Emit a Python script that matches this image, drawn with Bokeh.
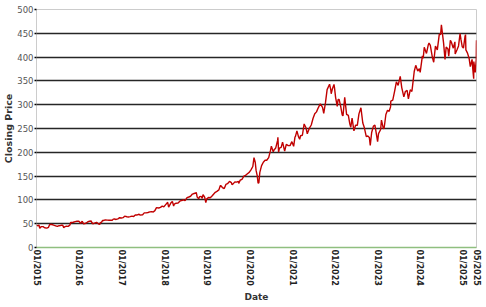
import math
from datetime import datetime
from bokeh.plotting import figure
from bokeh.models import FixedTicker, DatetimeTickFormatter, Range1d, ColumnDataSource
from bokeh.embed import file_html
from bokeh.resources import INLINE

dates = [
 "2015-01-02","2015-01-15","2015-01-23","2015-01-30","2015-02-13","2015-02-27","2015-03-13","2015-03-31",
 "2015-04-15","2015-04-24","2015-04-30","2015-05-15","2015-05-29","2015-06-15","2015-06-30","2015-07-15",
 "2015-07-24","2015-07-31","2015-08-14","2015-08-24","2015-08-31","2015-09-15","2015-09-30","2015-10-15",
 "2015-10-23","2015-10-30","2015-11-13","2015-11-30","2015-12-15","2015-12-31",
 "2016-01-15","2016-01-29","2016-02-10","2016-02-29","2016-03-15","2016-03-31","2016-04-15","2016-04-22",
 "2016-04-29","2016-05-13","2016-05-31","2016-06-15","2016-06-27","2016-06-30","2016-07-15","2016-07-21",
 "2016-07-29","2016-08-15","2016-08-31","2016-09-15","2016-09-30","2016-10-14","2016-10-21","2016-10-31",
 "2016-11-15","2016-11-30","2016-12-15","2016-12-30",
 "2017-01-13","2017-01-27","2017-02-15","2017-02-28","2017-03-15","2017-03-31","2017-04-14","2017-04-28",
 "2017-05-15","2017-05-31","2017-06-09","2017-06-30","2017-07-14","2017-07-31","2017-08-15","2017-08-31",
 "2017-09-15","2017-09-29","2017-10-13","2017-10-27","2017-11-15","2017-11-30","2017-12-15","2017-12-29",
 "2018-01-12","2018-01-31","2018-02-08","2018-02-28","2018-03-12","2018-03-23","2018-03-29","2018-04-13",
 "2018-04-30","2018-05-15","2018-05-31","2018-06-15","2018-06-29","2018-07-16","2018-07-31","2018-08-15",
 "2018-08-31","2018-09-14","2018-09-28","2018-10-03","2018-10-11","2018-10-24","2018-10-31","2018-11-15",
 "2018-11-23","2018-11-30","2018-12-14","2018-12-24","2018-12-31",
 "2019-01-15","2019-01-31","2019-02-15","2019-02-28","2019-03-15","2019-03-29","2019-04-15","2019-04-26",
 "2019-04-30","2019-05-15","2019-05-31","2019-06-14","2019-06-28","2019-07-15","2019-07-31","2019-08-05",
 "2019-08-15","2019-08-30","2019-09-13","2019-09-30","2019-10-02","2019-10-15","2019-10-31","2019-11-15",
 "2019-11-29","2019-12-13","2019-12-31",
 "2020-01-15","2020-01-31","2020-02-10","2020-02-21","2020-02-28","2020-03-09","2020-03-16","2020-03-23",
 "2020-03-31","2020-04-15","2020-04-30","2020-05-15","2020-05-29","2020-06-15","2020-06-30","2020-07-08",
 "2020-07-24","2020-07-31","2020-08-14","2020-08-31","2020-09-02","2020-09-08","2020-09-15","2020-09-30",
 "2020-10-12","2020-10-30","2020-11-13","2020-11-30","2020-12-15","2020-12-31",
 "2021-01-15","2021-01-27","2021-01-29","2021-02-12","2021-02-26","2021-03-08","2021-03-15","2021-03-31",
 "2021-04-15","2021-04-30","2021-05-12","2021-05-28","2021-06-15","2021-06-30","2021-07-15","2021-07-30",
 "2021-08-13","2021-08-31","2021-09-02","2021-09-20","2021-09-30","2021-10-15","2021-10-29","2021-11-19",
 "2021-11-30","2021-12-03","2021-12-15","2021-12-27","2021-12-31",
 "2022-01-10","2022-01-24","2022-01-31","2022-02-09","2022-02-24","2022-03-07","2022-03-14","2022-03-29",
 "2022-04-14","2022-04-29","2022-05-11","2022-05-20","2022-05-31","2022-06-16","2022-06-30","2022-07-15",
 "2022-07-29","2022-08-15","2022-08-31","2022-09-13","2022-09-30","2022-10-13","2022-10-26","2022-11-03",
 "2022-11-15","2022-11-30","2022-12-13","2022-12-28",
 "2023-01-05","2023-01-13","2023-01-31","2023-02-07","2023-02-24","2023-03-02","2023-03-17","2023-03-31",
 "2023-04-14","2023-04-26","2023-04-28","2023-05-15","2023-05-31","2023-06-15","2023-06-30","2023-07-18",
 "2023-07-31","2023-08-18","2023-08-31","2023-09-15","2023-09-26","2023-10-12","2023-10-26","2023-10-31",
 "2023-11-15","2023-11-28","2023-12-15","2023-12-29",
 "2024-01-05","2024-01-24","2024-01-31","2024-02-09","2024-02-28","2024-03-14","2024-03-21","2024-04-01",
 "2024-04-19","2024-04-30","2024-05-15","2024-05-31","2024-06-17","2024-06-28","2024-07-05","2024-07-24",
 "2024-08-05","2024-08-15","2024-08-30","2024-09-06","2024-09-20","2024-09-30","2024-10-15","2024-10-29",
 "2024-10-31","2024-11-15","2024-11-29","2024-12-12","2024-12-20","2024-12-31",
 "2025-01-10","2025-01-24","2025-01-28","2025-01-31","2025-02-14","2025-02-28","2025-03-10","2025-03-25",
 "2025-03-31","2025-04-08","2025-04-09","2025-04-21","2025-04-30","2025-05-01","2025-05-02",
]

prices = [
 46.8,45.5,47.2,40.4,43.9,43.9,41.4,40.7,
 42.3,47.9,48.6,48.3,46.9,45.5,44.2,45.8,
 45.9,46.7,47.0,41.7,43.5,45.0,44.3,47.0,
 52.9,52.6,53.0,54.4,55.2,55.5,
 50.9,55.1,49.7,50.9,53.6,55.2,55.6,51.8,
 49.9,51.1,53.0,49.8,48.4,51.2,53.7,56.6,
 56.7,58.1,57.5,57.2,57.6,57.4,59.7,59.9,
 58.9,60.3,62.6,62.1,
 62.7,65.8,64.5,64.0,64.8,65.9,64.9,68.5,
 68.4,69.8,68.0,68.9,72.8,72.7,73.6,74.8,
 75.3,74.5,77.5,83.8,83.0,84.2,86.9,85.5,
 89.6,95.0,85.0,93.8,96.8,87.2,91.3,93.1,
 93.5,97.3,98.8,100.1,98.6,104.9,106.1,107.7,
 112.3,113.4,114.4,115.6,105.9,102.3,106.8,107.3,
 103.1,110.9,106.0,94.1,101.6,
 105.0,104.4,108.2,112.0,115.9,117.9,121.1,129.2,
 130.6,126.0,123.7,132.5,134.0,138.9,136.3,132.2,
 133.7,137.9,137.3,139.0,134.7,141.6,143.4,150.0,
 151.4,154.5,157.7,
 163.2,170.2,188.7,178.6,162.0,150.6,135.4,136.0,
 157.7,171.9,179.2,183.2,183.3,188.9,203.5,212.8,
 201.3,205.0,208.9,225.5,231.7,200.4,208.8,210.3,
 221.4,202.5,216.5,214.1,214.1,222.4,
 212.6,232.9,232.0,245.0,232.4,227.4,234.8,235.8,
 259.5,252.2,239.0,249.7,257.4,270.9,281.0,284.9,
 292.9,301.9,301.2,294.3,281.9,304.2,331.6,343.1,
 330.6,323.0,334.7,342.5,336.3,
 315.0,296.4,311.0,311.2,294.6,278.9,276.4,315.4,
 279.8,277.5,260.6,252.6,271.9,245.0,256.8,256.7,
 280.7,293.5,261.5,252.0,232.9,234.2,231.3,214.3,
 241.7,255.1,256.9,234.5,
 222.3,239.2,247.8,267.6,249.2,251.1,279.4,288.3,
 286.1,295.4,307.3,309.5,328.4,348.1,340.5,359.5,
 335.9,316.5,327.8,330.2,312.1,331.2,327.9,338.1,
 369.7,382.7,370.7,376.0,
 367.8,402.6,397.6,420.6,407.7,425.2,429.4,424.6,
 399.1,389.3,423.1,415.1,448.4,447.0,467.6,428.9,
 395.2,421.0,417.1,401.7,435.3,430.3,418.7,432.0,
 406.4,415.0,423.5,449.5,436.6,421.5,
 419.0,444.1,447.2,415.1,408.4,397.0,380.2,395.2,
 375.4,354.6,390.5,367.8,395.3,425.4,435.3,
]

x_tick_dates = ["2015-01-02","2016-01-01","2017-01-01","2018-01-01","2019-01-01","2020-01-01",
                "2021-01-01","2022-01-01","2023-01-01","2024-01-01","2025-01-01","2025-05-02"]
y_ticks = [0, 50, 100, 150, 200, 250, 300, 350, 400, 450, 500]

def to_dt(s):
    return datetime.strptime(s, "%Y-%m-%d")

def to_ms(s):
    return (to_dt(s) - datetime(1970, 1, 1)).total_seconds() * 1000.0

src = ColumnDataSource(data=dict(x=[to_dt(d) for d in dates], y=prices))

p = figure(width=486, height=307, x_axis_type="datetime", output_backend="svg",
           toolbar_location=None,
           x_range=Range1d(to_dt(dates[0]), to_dt(dates[-1])),
           y_range=Range1d(0, 500),
           min_border_left=36, min_border_right=10, min_border_top=9, min_border_bottom=60)

p.line("x", "y", source=src, line_color="#c00000", line_width=1.4)

p.xaxis.ticker = FixedTicker(ticks=[to_ms(d) for d in x_tick_dates])
fmt = "%m/%Y"
p.xaxis.formatter = DatetimeTickFormatter(milliseconds=fmt, seconds=fmt, minsec=fmt, minutes=fmt,
                                          hourmin=fmt, hours=fmt, days=fmt, months=fmt, years=fmt)
p.xaxis.major_label_orientation = -math.pi / 2
p.xaxis.major_label_text_font = "DejaVu Sans"
p.xaxis.major_label_text_font_style = "bold"
p.xaxis.major_label_text_font_size = "8px"
p.xaxis.major_label_text_color = "#222222"
p.xaxis.major_label_standoff = 2
p.xaxis.axis_line_color = "#8fbf7f"
p.xaxis.axis_line_width = 1.5
p.xaxis.major_tick_line_color = None
p.xaxis.major_tick_out = 0
p.xaxis.major_tick_in = 0
p.xaxis.minor_tick_line_color = None
p.xaxis.axis_label = "Date"
p.xaxis.axis_label_text_font = "DejaVu Sans"
p.xaxis.axis_label_text_font_style = "bold"
p.xaxis.axis_label_text_font_size = "9px"
p.xaxis.axis_label_text_color = "#333333"
p.xaxis.axis_label_standoff = 3

p.yaxis.ticker = FixedTicker(ticks=y_ticks)
p.yaxis.axis_line_color = None
p.yaxis.major_tick_line_color = "#000000"
p.yaxis.major_tick_line_width = 1.5
p.yaxis.major_tick_out = 2
p.yaxis.major_tick_in = 0
p.yaxis.minor_tick_line_color = None
p.yaxis.major_label_text_font = "DejaVu Sans"
p.yaxis.major_label_text_font_size = "8.5px"
p.yaxis.major_label_text_color = "#555555"
p.yaxis.major_label_standoff = 1
p.yaxis.axis_label = "Closing Price"
p.yaxis.axis_label_text_font = "DejaVu Sans"
p.yaxis.axis_label_text_font_style = "bold"
p.yaxis.axis_label_text_font_size = "9.5px"
p.yaxis.axis_label_text_color = "#333333"
p.yaxis.axis_label_standoff = 0

p.xgrid.grid_line_color = None
p.ygrid.grid_line_color = "#000000"
p.ygrid.grid_line_width = 1.5
p.ygrid.grid_line_alpha = 0.85

p.outline_line_color = "#cccccc"
p.outline_line_width = 1
p.background_fill_color = "white"
p.border_fill_color = "white"

open("out.html", "w").write(file_html(p, INLINE))
